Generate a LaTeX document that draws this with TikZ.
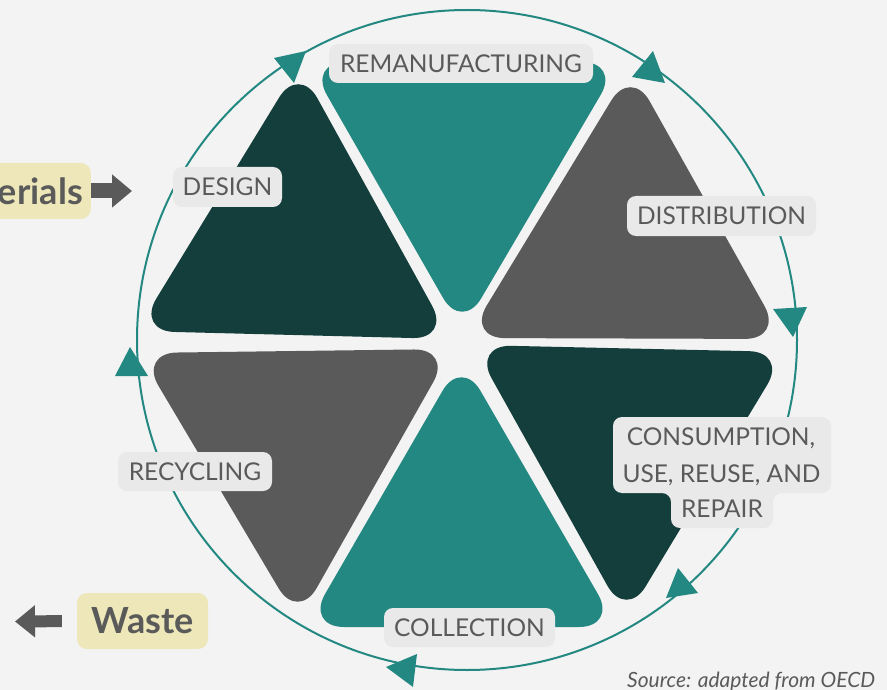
\documentclass[tikz,border=0pt]{standalone}
\usepackage{fontspec}
\setmainfont{Lato}
\usetikzlibrary{arrows.meta}
\definecolor{bg}{HTML}{F3F3F3}
\definecolor{tealc}{HTML}{238881}
\definecolor{darkc}{HTML}{143E3C}
\definecolor{grayc}{HTML}{5A5A5A}
\definecolor{labelbg}{HTML}{E9E9E9}
\definecolor{labeltxt}{HTML}{5A5A5A}
\definecolor{yellowc}{HTML}{EEE7B9}
\begin{document}
\begin{tikzpicture}[x=1pt,y=-1pt,
  tri/.style={rounded corners=38pt},
  lab/.style={fill=labelbg, text=labeltxt, rounded corners=9pt, inner sep=0pt,
     minimum height=39pt, font=\fontsize{24.5pt}{28pt}\selectfont},
  labtxt/.style={text=labeltxt, inner sep=0pt, anchor=base, font=\fontsize{24.5pt}{28pt}\selectfont},
  ybox/.style={fill=yellowc, text=labeltxt, rounded corners=10pt, inner sep=0pt,
     minimum height=56pt, font=\fontsize{36pt}{40pt}\selectfont\bfseries},
  cyc/.style={fill=tealc}]
\fill[bg] (0,0) rectangle (887,690);
\useasboundingbox (0,0) rectangle (887,690);
% cycle circle
\draw[tealc, line width=2pt] (467,340) circle[radius=330];
% arrowheads along the cycle
\fill[cyc] (306,51) -- (274,58) -- (294,83) -- cycle;
\fill[cyc] (665,83) -- (632,77) -- (653,51) -- cycle;
\fill[cyc] (793,337) -- (773,309) -- (807,307) -- cycle;
\fill[cyc] (666,598) -- (678,568) -- (698,593) -- cycle;
\fill[cyc] (386,667) -- (417,654) -- (413,687) -- cycle;
\fill[cyc] (130,347) -- (115,376) -- (148,376) -- cycle;
% triangles
\fill[darkc, tri] (217.75,198) -- (299,65) -- (450.5,339) -- (136.5,331) -- cycle;   % design
\fill[tealc, tri] (464,62) -- (620,62) -- (462,331) -- (308,62) -- cycle;           % remanufacturing
\fill[grayc, tri] (549,203) -- (631,68) -- (783,339) -- (467,338) -- cycle;         % distribution
\fill[darkc, tri] (630,348.5) -- (787,352) -- (626,619) -- (473,345) -- cycle;      % consumption
\fill[tealc, tri] (383.75,492.5) -- (461.5,358) -- (617,627) -- (306,627) -- cycle; % collection
\fill[grayc, tri] (295.5,351) -- (452,349) -- (298,621) -- (139,353) -- cycle;      % recycling
% labels
\node[lab, minimum width=264pt] (reman) at (461,63.5) {REMANUFACTURING};
\node[lab, minimum width=109pt, minimum height=40pt] (design) at (227.5,187) {DESIGN};
\node[lab, minimum width=189pt, minimum height=40pt] (distr) at (721.5,216) {DISTRIBUTION};
\node[lab, minimum width=154pt] (recyc) at (195,471.5) {RECYCLING};
\node[lab, minimum width=171pt] (collect) at (469.5,627.5) {COLLECTION};
\fill[labelbg, rounded corners=9pt] (722,417) -- (831,417) -- (831,493) -- (773,493) -- (773,528)
   -- (671,528) -- (671,493) -- (613,493) -- (613,417) -- cycle;
\node[labtxt] (cons1) at (721,445) {CONSUMPTION,};
\node[labtxt] (cons2) at (721.5,482) {USE, REUSE, AND};
\node[labtxt] (cons3) at (722,517) {REPAIR};
% inputs and outputs
\begin{scope}
\clip (0,0) rectangle (887,690);
\node[ybox, anchor=east, minimum width=140pt, text width=124pt, align=right] (mat) at (91,191) {erials};
\end{scope}
\coordinate (matend) at (132,191);
\draw[grayc, line width=15pt, -{Triangle[length=20pt,width=32pt]}] (mat.east) -- (matend);
\node[ybox, minimum width=131pt] (waste) at (142.5,621) {Waste};
\coordinate (wasteend) at (15,621.5);
\draw[grayc, line width=12pt, shorten <=15pt, -{Triangle[length=20pt,width=31pt]}] (waste.west) -- (wasteend);
\node[text=labeltxt, anchor=base west, inner sep=0pt, font=\fontsize{21pt}{24pt}\selectfont\itshape] (src) at (627,687.5) {Source: adapted from OECD};
\end{tikzpicture}
\end{document}
